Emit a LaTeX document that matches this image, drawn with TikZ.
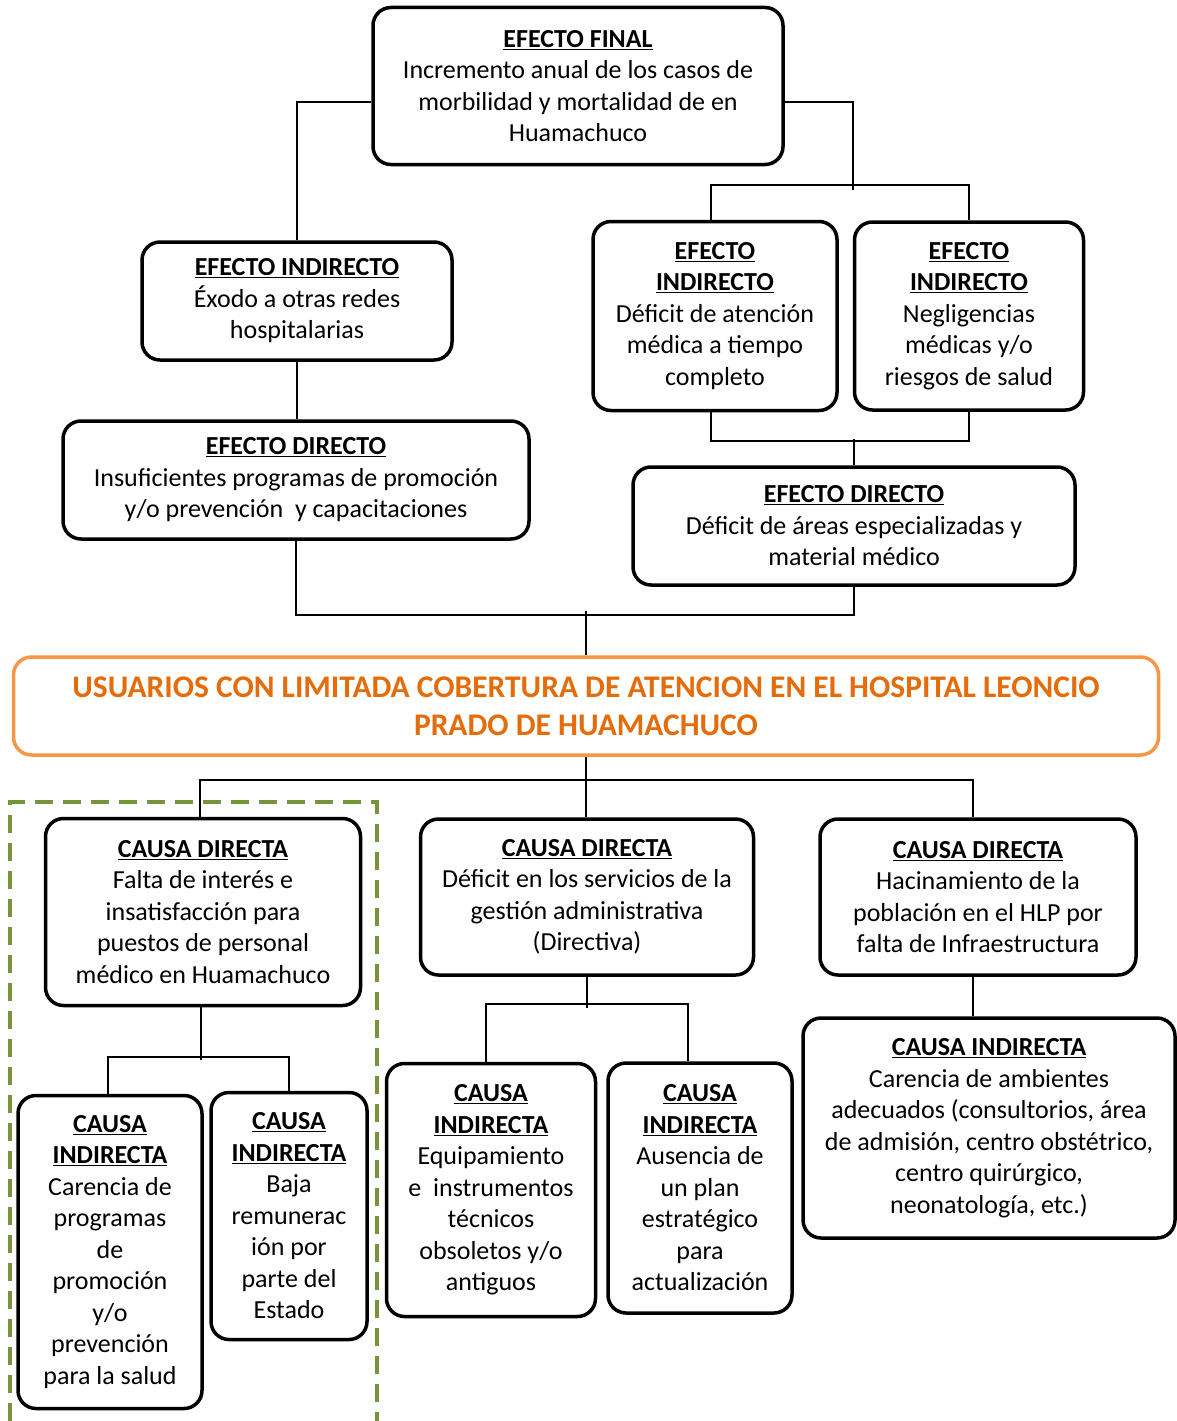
\documentclass[tikz,border=0pt]{standalone}
\usepackage{fontspec}
\setmainfont{Carlito}
\definecolor{naranja}{RGB}{228,108,10}
\definecolor{naranjaborde}{RGB}{247,150,70}
\definecolor{verde}{RGB}{119,147,60}
\newcommand{\tit}[1]{\underline{\textbf{#1}}}

\begin{document}
\begin{tikzpicture}[x=1pt, y=-1pt,
  caja/.style={draw=black, line width=3.5pt, rounded corners=18pt, align=center, inner sep=0pt, font=\fontsize{26}{31.5}\selectfont},
  problema/.style={draw=naranjaborde, line width=3.5pt, rounded corners=18pt, align=center, inner sep=0pt, text=naranja, font=\fontsize{31.5}{38}\selectfont\bfseries},
  linea/.style={-, line width=1.8pt, draw=black}]
\useasboundingbox (0,0) rectangle (1177,1421);
% efectos
\node[caja, minimum width=410, minimum height=157] (final) at (578,86) {\tit{EFECTO FINAL}\\Incremento anual de los casos de\\morbilidad y mortalidad de en\\Huamachuco};
\node[caja, minimum width=310, minimum height=118] (ei1) at (297,301) {\tit{EFECTO INDIRECTO}\\Éxodo a otras redes\\hospitalarias};
\node[caja, minimum width=244, minimum height=189] (ei2) at (715,316) {\tit{EFECTO}\\\tit{INDIRECTO}\\Déficit de atención\\médica a tiempo\\completo};
\node[caja, minimum width=229, minimum height=188] (ei3) at (969,316) {\tit{EFECTO}\\\tit{INDIRECTO}\\Negligencias\\médicas y/o\\riesgos de salud};
\node[caja, minimum width=466, minimum height=118] (ed1) at (296,480) {\tit{EFECTO DIRECTO}\\Insuficientes programas de promoción\\y/o prevención\ \ y capacitaciones};
\node[caja, minimum width=442, minimum height=118] (ed2) at (854,526) {\tit{EFECTO DIRECTO}\\Déficit de áreas especializadas y\\material médico};
% problema central
\node[problema, minimum width=1145, minimum height=98] (prob) at (586,706) {USUARIOS CON LIMITADA COBERTURA DE ATENCION EN EL HOSPITAL LEONCIO\\PRADO DE HUAMACHUCO};
% causas
\node[caja, minimum width=315, minimum height=187] (cd1) at (203,912) {\tit{CAUSA DIRECTA}\\Falta de interés e\\insatisfacción para\\puestos de personal\\médico en Huamachuco};
\node[caja, minimum width=333, minimum height=156] (cd2) at (587,897) {\tit{CAUSA DIRECTA}\\Déficit en los servicios de la\\gestión administrativa\\(Directiva)};
\node[caja, minimum width=316, minimum height=156] (cd3) at (978,897) {\tit{CAUSA DIRECTA}\\Hacinamiento de la\\población en el HLP por\\falta de Infraestructura};
\node[caja, minimum width=184, minimum height=313] (ci1) at (110,1252) {\tit{CAUSA}\\\tit{INDIRECTA}\\Carencia de\\programas\\de\\promoción\\y/o\\prevención\\para la salud};
\node[caja, minimum width=156, minimum height=247] (ci2) at (289,1216) {\tit{CAUSA}\\\tit{INDIRECTA}\\Baja\\remunerac\\ión por\\parte del\\Estado};
\node[caja, minimum width=209, minimum height=253] (ci3) at (491,1190) {\tit{CAUSA}\\\tit{INDIRECTA}\\Equipamiento\\e\ \ instrumentos\\técnicos\\obsoletos y/o\\antiguos};
\node[caja, minimum width=184, minimum height=250] (ci4) at (700,1188) {\tit{CAUSA}\\\tit{INDIRECTA}\\Ausencia de\\un plan\\estratégico\\para\\actualización};
\node[caja, minimum width=372, minimum height=220] (ci5) at (989,1128) {\tit{CAUSA INDIRECTA}\\Carencia de ambientes\\adecuados (consultorios, área\\de admisión, centro obstétrico,\\centro quirúrgico,\\neonatología, etc.)};
% conectores
\coordinate (j1) at (853,190);
\draw[linea] ([yshift=-16]final.west) -| (ei1.north);
\draw[linea] ([yshift=-16]final.east) -| (j1);
\draw[linea] ([xshift=-4]ei2.north) -- ++(0,-35) -| (ei3.north);
\draw[linea] (ei1.south) -- (ei1.south |- ed1.north);
\draw[linea] ([xshift=-4]ei2.south) -- ++(0,29) -| (ei3.south);
\draw[linea] (ed2.north) -- ++(0,-26);
\draw[linea] (ed1.south) -- ++(0,74) -| (ed2.south);
\draw[linea] (prob.north) -- ++(0,-44);
\draw[linea] (prob.south) -- (prob.south |- cd2.north);
\draw[linea] ([xshift=-3]cd1.north) -- ++(0,-37) -| ([xshift=-5]cd3.north);
\draw[linea] ([xshift=-2]cd1.south) -- ++(0,53);
\draw[linea] ([xshift=-2]ci1.north) -- ++(0,-37) -| (ci2.north);
\draw[linea] (cd2.south) -- ++(0,31);
\draw[linea] ([xshift=-5]ci3.north) -- ++(0,-58) -| ([xshift=-12]ci4.north);
\draw[linea] ([xshift=-5]cd3.south) -- ([xshift=-5]cd3.south |- ci5.north);
% recuadro verde
\draw[verde, line width=4pt, dash pattern=on 18pt off 10pt] (10,1421) -- (10,802) -- (377,802) -- (377,1421);
\end{tikzpicture}
\end{document}
